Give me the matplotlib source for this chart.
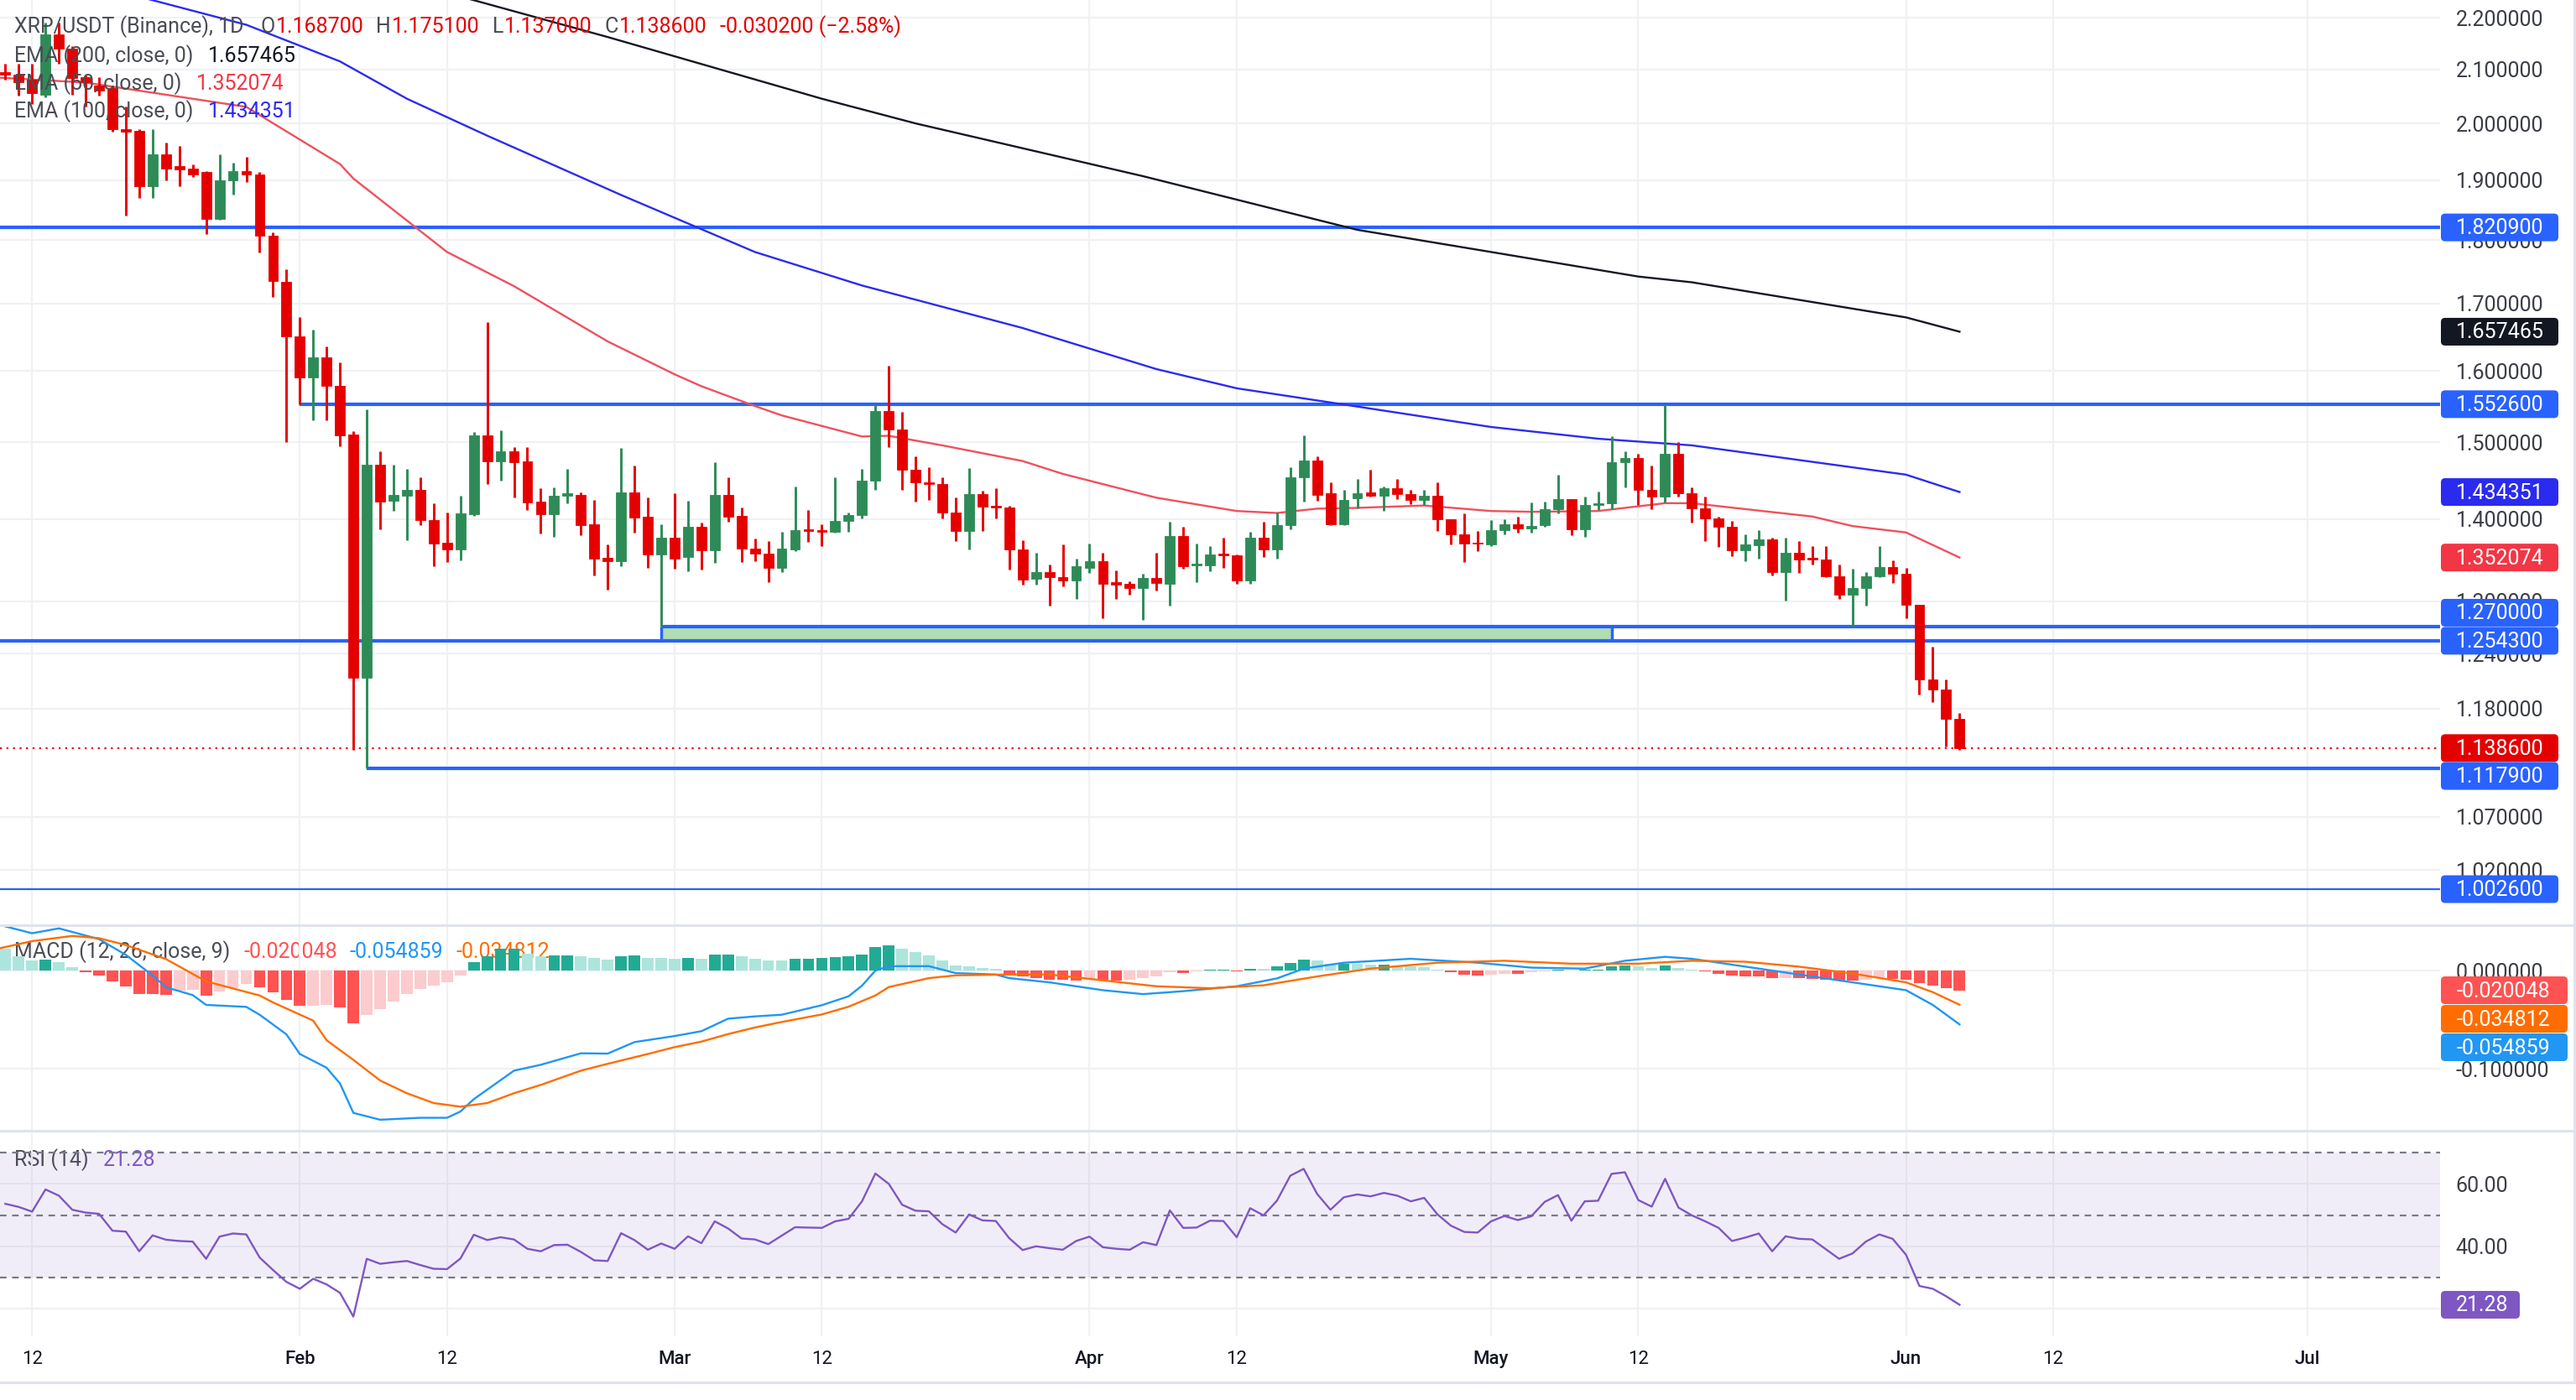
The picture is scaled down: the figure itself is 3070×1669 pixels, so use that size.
import numpy as np
import pandas as pd
import matplotlib
matplotlib.use("Agg")
import matplotlib.pyplot as plt
import matplotlib.dates as mdates
import matplotlib.ticker as mticker
from matplotlib.patches import FancyBboxPatch
from matplotlib.lines import Line2D
from matplotlib.transforms import IdentityTransform

plt.rcParams["font.family"] = ["Roboto", "DejaVu Sans"]

W, H = 3070, 1669
PLOT_R = 2908

# ---- daily candles, XRP/USDT 1D, from 2026-01-10 ----
start = "2026-01-10"
opens = [
    2.095, 2.09, 2.08, 2.053, 2.167, 2.14, 2.085, 2.07, 2.065, 1.99,
    1.987, 1.89, 1.945, 1.925, 1.92, 1.914, 1.835, 1.90, 1.916, 1.91,
    1.808, 1.734, 1.651, 1.59, 1.62, 1.578, 1.511, 1.213, 1.47, 1.423,
    1.43, 1.4375, 1.399, 1.37, 1.362, 1.406, 1.509, 1.475, 1.488, 1.475,
    1.422, 1.406, 1.43, 1.431, 1.393, 1.352, 1.348, 1.434, 1.403, 1.356,
    1.376, 1.353, 1.39, 1.361, 1.431, 1.4036, 1.363, 1.357, 1.34, 1.362,
    1.387, 1.386, 1.384, 1.398, 1.405, 1.449, 1.543, 1.518, 1.464, 1.4465,
    1.4445, 1.408, 1.385, 1.432, 1.417, 1.415, 1.362, 1.326, 1.334, 1.328,
    1.324, 1.34, 1.348, 1.322, 1.32, 1.315, 1.327, 1.32, 1.379, 1.343,
    1.343, 1.357, 1.355, 1.324, 1.376, 1.362, 1.392, 1.453, 1.476, 1.433,
    1.393, 1.426, 1.434, 1.4295, 1.439, 1.432, 1.424, 1.43, 1.40, 1.381,
    1.37, 1.368, 1.386, 1.393, 1.3875, 1.392, 1.412, 1.4255, 1.387, 1.418,
    1.42, 1.474, 1.479, 1.437, 1.428, 1.485, 1.433, 1.4135, 1.401, 1.39,
    1.361, 1.367, 1.374, 1.334, 1.358, 1.352, 1.35, 1.329, 1.307, 1.315,
    1.329, 1.341, 1.332, 1.296, 1.211, 1.20, 1.1687,
]
highs = [
    2.11, 2.11, 2.11, 2.19, 2.19, 2.145, 2.088, 2.085, 2.07, 2.03,
    1.99, 1.99, 1.966, 1.96, 1.927, 1.916, 1.945, 1.93, 1.94, 1.914,
    1.813, 1.754, 1.68, 1.66, 1.635, 1.612, 1.515, 1.545, 1.488, 1.47,
    1.465, 1.454, 1.42, 1.408, 1.43, 1.514, 1.672, 1.517, 1.494, 1.494,
    1.439, 1.44, 1.465, 1.434, 1.4245, 1.368, 1.493, 1.469, 1.427, 1.393,
    1.433, 1.423, 1.395, 1.474, 1.453, 1.415, 1.375, 1.372, 1.384, 1.442,
    1.411, 1.393, 1.453, 1.408, 1.465, 1.5526, 1.607, 1.542, 1.481, 1.467,
    1.454, 1.427, 1.466, 1.436, 1.439, 1.417, 1.373, 1.358, 1.344, 1.368,
    1.351, 1.369, 1.358, 1.336, 1.323, 1.332, 1.358, 1.396, 1.39, 1.369,
    1.366, 1.376, 1.356, 1.384, 1.396, 1.408, 1.467, 1.509, 1.481, 1.447,
    1.437, 1.451, 1.464, 1.441, 1.451, 1.4375, 1.437, 1.447, 1.40, 1.407,
    1.385, 1.399, 1.40, 1.403, 1.421, 1.422, 1.457, 1.4255, 1.428, 1.435,
    1.508, 1.488, 1.485, 1.469, 1.5526, 1.50, 1.44, 1.429, 1.403, 1.397,
    1.381, 1.386, 1.376, 1.377, 1.372, 1.366, 1.366, 1.344, 1.339, 1.334,
    1.366, 1.349, 1.34, 1.296, 1.248, 1.211, 1.1751,
]
lows = [
    2.08, 2.05, 2.035, 2.048, 2.11, 2.053, 2.03, 2.05, 1.985, 1.84,
    1.87, 1.87, 1.90, 1.89, 1.905, 1.81, 1.833, 1.875, 1.897, 1.78,
    1.71, 1.50, 1.553, 1.53, 1.53, 1.495, 1.137, 1.118, 1.387, 1.41,
    1.373, 1.392, 1.342, 1.347, 1.349, 1.404, 1.445, 1.449, 1.427, 1.411,
    1.382, 1.378, 1.42, 1.38, 1.33, 1.313, 1.342, 1.383, 1.34, 1.27,
    1.338, 1.335, 1.3375, 1.346, 1.396, 1.347, 1.348, 1.3225, 1.334, 1.36,
    1.371, 1.366, 1.383, 1.384, 1.401, 1.437, 1.494, 1.437, 1.422, 1.4245,
    1.401, 1.372, 1.362, 1.385, 1.401, 1.337, 1.319, 1.319, 1.295, 1.317,
    1.303, 1.333, 1.28, 1.303, 1.307, 1.278, 1.312, 1.295, 1.339, 1.322,
    1.335, 1.34, 1.32, 1.32, 1.353, 1.351, 1.387, 1.422, 1.423, 1.392,
    1.392, 1.413, 1.428, 1.41, 1.425, 1.419, 1.418, 1.385, 1.368, 1.347,
    1.36, 1.366, 1.381, 1.383, 1.383, 1.39, 1.407, 1.38, 1.378, 1.4115,
    1.4125, 1.44, 1.418, 1.412, 1.421, 1.428, 1.395, 1.372, 1.365, 1.354,
    1.348, 1.351, 1.33, 1.301, 1.333, 1.344, 1.328, 1.303, 1.27, 1.295,
    1.328, 1.321, 1.28, 1.195, 1.187, 1.14, 1.137,
]
closes = [
    2.09, 2.075, 2.055, 2.167, 2.14, 2.083, 2.075, 2.06, 1.99, 1.985,
    1.89, 1.945, 1.92, 1.918, 1.91, 1.835, 1.90, 1.916, 1.91, 1.807,
    1.735, 1.651, 1.59, 1.62, 1.578, 1.51, 1.213, 1.47, 1.422, 1.431,
    1.4375, 1.399, 1.369, 1.362, 1.407, 1.509, 1.475, 1.488, 1.474, 1.421,
    1.406, 1.43, 1.4326, 1.3925, 1.351, 1.348, 1.434, 1.402, 1.356, 1.377,
    1.351, 1.39, 1.361, 1.431, 1.403, 1.363, 1.357, 1.34, 1.363, 1.386,
    1.385, 1.384, 1.398, 1.405, 1.449, 1.543, 1.518, 1.464, 1.4465, 1.4445,
    1.4077, 1.385, 1.432, 1.416, 1.415, 1.362, 1.325, 1.334, 1.328, 1.324,
    1.3415, 1.348, 1.32, 1.319, 1.315, 1.327, 1.321, 1.379, 1.342, 1.345,
    1.356, 1.355, 1.324, 1.376, 1.362, 1.3925, 1.453, 1.476, 1.431, 1.393,
    1.4245, 1.433, 1.4295, 1.439, 1.432, 1.424, 1.43, 1.40, 1.381, 1.369,
    1.369, 1.386, 1.393, 1.3875, 1.391, 1.4125, 1.4255, 1.387, 1.418, 1.42,
    1.474, 1.479, 1.437, 1.428, 1.485, 1.433, 1.4135, 1.401, 1.39, 1.361,
    1.368, 1.374, 1.334, 1.358, 1.35, 1.35, 1.329, 1.307, 1.315, 1.329,
    1.341, 1.332, 1.296, 1.211, 1.20, 1.1687, 1.1386,
]

# EMA lines (date, value)
ema200_dates = ["02-01", "02-14", "02-24", "03-12", "03-19", "04-05", "04-21", "05-01", "05-12", "05-16",
                "06-01", "06-05"]
ema200_vals = [2.33, 2.235, 2.162, 2.045, 2.0, 1.907, 1.817, 1.781, 1.742, 1.733,
               1.679, 1.657465]
ema100_dates = ["01-09", "01-21", "01-28", "02-04", "02-09", "02-15", "02-25", "03-07", "03-15", "03-27",
                "04-06", "04-12", "04-19", "05-01", "05-09", "05-16", "06-01", "06-05"]
ema100_vals = [2.32, 2.235, 2.186, 2.115, 2.045, 1.978, 1.875, 1.781, 1.728, 1.663,
               1.6025, 1.575, 1.555, 1.521, 1.505, 1.496, 1.457, 1.434351]
ema50_dates = ["01-09", "01-16", "01-28", "02-04", "02-05", "02-12", "02-17", "02-24", "03-01", "03-03",
               "03-07", "03-09", "03-15", "03-17", "03-21", "03-27", "03-30", "04-06", "04-12", "04-15",
               "04-18", "04-21", "04-26", "05-01", "05-04", "05-09", "05-12", "05-14", "05-16", "05-25",
               "05-28", "06-01", "06-05"]
ema50_vals = [2.085, 2.075, 2.03, 1.928, 1.903, 1.781, 1.727, 1.643, 1.595, 1.578,
              1.55, 1.537, 1.508, 1.509, 1.496, 1.475, 1.458, 1.427, 1.41, 1.4075,
              1.413, 1.414, 1.417, 1.41, 1.409, 1.41, 1.416, 1.42, 1.42, 1.403,
              1.391, 1.383, 1.352074]

# MACD (12, 26, 9)
macd_dates = ["01-09", "01-10", "01-12", "01-14", "01-17", "01-19", "01-21", "01-22", "01-24", "01-25",
              "01-28", "01-29", "01-31", "02-01", "02-03", "02-04", "02-05", "02-07", "02-10", "02-12",
              "02-13", "02-14", "02-17", "02-19", "02-22", "02-24", "02-26", "03-01", "03-03", "03-05",
              "03-07", "03-09", "03-12", "03-14", "03-15", "03-16", "03-17", "03-20", "03-22", "03-25",
              "03-26", "03-29", "04-02", "04-05", "04-08", "04-12", "04-15", "04-17", "04-20", "04-25",
              "04-30", "05-04", "05-08", "05-11", "05-14", "05-16", "05-20", "05-24", "05-28", "06-01",
              "06-03", "06-05"]
macd_vals = [0.050, 0.045, 0.038, 0.043, 0.032, 0.016, -0.005, -0.017, -0.025, -0.035,
             -0.037, -0.045, -0.065, -0.085, -0.099, -0.115, -0.145, -0.152, -0.150, -0.150,
             -0.1436, -0.131, -0.102, -0.096, -0.0843, -0.0846, -0.0729, -0.0667, -0.0618, -0.049,
             -0.0467, -0.045, -0.0353, -0.0262, -0.0154, 0.0, 0.0045, 0.0045, -0.0026, -0.004,
             -0.0077, -0.012, -0.020, -0.024, -0.021, -0.016, -0.008, 0.002, 0.008, 0.012,
             0.008, 0.003, 0.002, 0.010, 0.014, 0.012, 0.004, -0.004, -0.012, -0.020,
             -0.035, -0.054859]
signal_dates = ["01-09", "01-12", "01-15", "01-17", "01-19", "01-22", "01-25", "01-29", "01-30", "02-02",
                "02-03", "02-05", "02-07", "02-09", "02-11", "02-13", "02-15", "02-17", "02-19", "02-22",
                "02-24", "02-27", "03-01", "03-03", "03-05", "03-07", "03-09", "03-12", "03-14", "03-16",
                "03-17", "03-20", "03-22", "03-26", "03-29", "04-02", "04-06", "04-10", "04-14", "04-18",
                "04-22", "04-27", "05-02", "05-07", "05-12", "05-16", "05-20", "05-24", "05-28", "06-01",
                "06-03", "06-05"]
signal_vals = [0.021, 0.030, 0.0353, 0.033, 0.026, 0.0117, -0.011, -0.0254, -0.0325, -0.051,
               -0.071, -0.091, -0.112, -0.125, -0.135, -0.1387, -0.135, -0.125, -0.1165, -0.102,
               -0.095, -0.085, -0.078, -0.0724, -0.0647, -0.058, -0.0524, -0.0447, -0.0368, -0.0254,
               -0.0168, -0.0077, -0.0049, -0.004, -0.004, -0.010, -0.016, -0.018, -0.015, -0.006,
               0.002, 0.008, 0.010, 0.007, 0.007, 0.010, 0.009, 0.004, -0.003, -0.012,
               -0.022, -0.034812]
hist = [
    0.0222, 0.0145, 0.0105, 0.0110, 0.0088, 0.0031, -0.0017, -0.0054, -0.0111, -0.0160,
    -0.0236, -0.0240, -0.0248, -0.0205, -0.0200, -0.0259, -0.0217, -0.0177, -0.0140, -0.0174,
    -0.0225, -0.0302, -0.0359, -0.0356, -0.0353, -0.0376, -0.0538, -0.0453, -0.0396, -0.0319,
    -0.0239, -0.0188, -0.0154, -0.0120, -0.0054, 0.0083, 0.0145, 0.0225, 0.0226, 0.0174,
    0.0145, 0.0154, 0.0155, 0.0150, 0.0131, 0.0111, 0.0145, 0.0154, 0.0131, 0.0130,
    0.0117, 0.0131, 0.0122, 0.0165, 0.0166, 0.0142, 0.0122, 0.0103, 0.0102, 0.0117,
    0.0118, 0.0131, 0.0137, 0.0145, 0.0165, 0.0236, 0.0259, 0.0225, 0.0188, 0.0151,
    0.0100, 0.0051, 0.0046, 0.0023, 0.0017,
    -0.003, -0.006, -0.008, -0.009, -0.0092,
    -0.010, -0.009, -0.0095, -0.0098, -0.009, -0.008, -0.006,
    -0.002, -0.0025, -0.001, 0.0005, 0.001, -0.001, 0.002, 0.0018, 0.004,
    0.008, 0.011, 0.010, 0.007,
    0.0072, 0.0068, 0.006, 0.0062, 0.005, 0.004, 0.0032, 0.001,
    -0.002, -0.004, -0.005, -0.004, -0.003, -0.0032, -0.002,
    -0.001, 0.001, 0.0002, 0.001, 0.0012, 0.004, 0.005, 0.004, 0.003, 0.005,
    0.003, 0.001, -0.001, -0.003, -0.005, -0.0058, -0.006, -0.008, -0.0078, -0.008,
    -0.0082, -0.009, -0.010, -0.0102, -0.009, -0.008, -0.0082, -0.009, -0.013, -0.015,
    -0.018, -0.020048,
]

# RSI (14), one value per candle
rsi = [
    53.6, 52.6, 51.1, 58.2, 56.2, 51.7, 50.8, 50.4, 45.0, 44.7,
    38.4, 43.5, 42.1, 41.7, 41.5, 36.0, 43.1, 44.1, 43.8, 36.4,
    32.4, 28.6, 26.4, 29.6, 27.8, 25.1, 17.5, 36.0, 34.4, 34.9,
    35.3, 34.0, 32.8, 32.7, 36.1, 43.7, 42.0, 42.9, 42.2, 39.2,
    38.4, 40.4, 40.5, 38.2, 35.5, 35.3, 44.2, 42.0, 38.9, 40.9,
    39.2, 43.2, 41.0, 48.0, 45.7, 42.5, 42.2, 40.7, 43.4, 46.1,
    46.0, 45.9, 48.0, 48.8, 54.4, 63.3, 60.0, 53.3, 51.4, 51.2,
    47.1, 44.4, 50.2, 48.3, 48.1, 42.6, 38.8, 40.0, 39.4, 38.9,
    41.7, 43.1, 39.7, 39.2, 38.9, 41.3, 40.4, 51.5, 45.9, 46.0,
    48.2, 48.1, 42.9, 52.2, 49.9, 54.6, 62.6, 64.8, 56.8, 51.7,
    55.7, 56.6, 56.0, 57.1, 56.2, 54.4, 55.5, 50.2, 46.6, 44.6,
    44.4, 48.0, 49.7, 48.4, 49.6, 54.2, 56.4, 48.2, 54.4, 54.6,
    63.2, 63.7, 54.8, 52.7, 61.6, 52.4, 49.9, 48.0, 45.9, 41.7,
    42.8, 44.1, 38.4, 43.2, 42.4, 42.2, 39.1, 36.0, 37.7, 41.5,
    43.8, 42.4, 37.3, 27.3, 26.4, 24.0, 21.28,
]

# drawn levels
full_levels = [1.8209, 1.2543, 1.0026]
level_1552 = (1.5526, "02-01")
level_1270 = (1.27, "02-28")
level_1117 = (1.1179, "02-06")
zone = ("02-28", "05-10", 1.2543, 1.27)
last_price = 1.1386

price_ticks = [1.02, 1.07, 1.18, 1.24, 1.3, 1.4, 1.5, 1.6, 1.7, 1.8, 1.9, 2.0, 2.1, 2.2]
x_ticks = ["01-12", "02-01", "02-12", "03-01", "03-12", "04-01", "04-12", "05-01", "05-12", "06-01", "06-12", "07-01"]
x_labels = ["12", "Feb", "12", "Mar", "12", "Apr", "12", "May", "12", "Jun", "12", "Jul"]


def d(s):
    return mdates.date2num(pd.Timestamp("2026-" + s))


dates = mdates.date2num(pd.date_range(start, periods=len(opens), freq="D"))
o, h, l, c = map(np.array, (opens, highs, lows, closes))
base = d("01-01")
xlim = (base + 8.6, base + 190.9)

UP, DOWN = "#2e8b57", "#e50000"
BLUE = "#2962ff"
GRID = "#f0f1f4"
TXT = "#3b3e45"

fig = plt.figure(figsize=(W / 100, H / 100), dpi=100)
fig.patch.set_facecolor("white")


def px_axes(top, bottom):
    return fig.add_axes([0, 1 - bottom / H, PLOT_R / W, (bottom - top) / H])


ax_p = px_axes(0, 1103)
ax_m = px_axes(1103, 1348)
ax_r = px_axes(1348, 1593)

for ax in (ax_p, ax_m, ax_r):
    ax.set_facecolor("none")
    for sp in ax.spines.values():
        sp.set_visible(False)
    ax.set_xlim(*xlim)
    ax.set_xticks([d(t) for t in x_ticks])
    ax.yaxis.tick_right()
    ax.tick_params(axis="both", length=0, labelsize=18, labelcolor=TXT)
    ax.tick_params(axis="y", pad=13.5)
    ax.grid(True, color=GRID, lw=1.6)
    ax.set_axisbelow(True)
ax_p.tick_params(axis="x", labelbottom=False)
ax_m.tick_params(axis="x", labelbottom=False)
ax_r.set_xticklabels(x_labels)
ax_r.tick_params(axis="x", pad=12, labelsize=16, labelcolor="#131722")
for lab, txt in zip(ax_r.get_xticklabels(), x_labels):
    if not txt.isdigit():
        lab.set_fontweight("medium")

# ---- price panel ----
ax_p.set_yscale("log")
ax_p.set_ylim(0.9705, 2.2354)
ax_p.yaxis.set_major_locator(mticker.FixedLocator(price_ticks))
ax_p.yaxis.set_minor_locator(mticker.NullLocator())
ax_p.yaxis.set_major_formatter(mticker.FormatStrFormatter("%.6f"))
ax_p.yaxis.set_minor_formatter(mticker.NullFormatter())

for y in full_levels:
    ax_p.axhline(y, color=BLUE, lw=3 if y > 1.1 else 1.6, zorder=2)
for y, s in (level_1552, level_1270, level_1117):
    ax_p.hlines(y, d(s), xlim[1], color=BLUE, lw=3, zorder=2)
z0, z1, zlo, zhi = zone
ax_p.fill_between([d(z0), d(z1)], zlo, zhi, color="#b1ddb3", lw=0, zorder=1.5)
ax_p.vlines([d(z0), d(z1)], zlo, zhi, color=BLUE, lw=2.5, zorder=2)
ax_p.axhline(last_price, color=DOWN, lw=1.6, ls=(0, (1, 2.5)), zorder=2)

ax_p.plot([d(s) for s in ema200_dates], ema200_vals, color="#131722", lw=1.7, zorder=3)
ax_p.plot([d(s) for s in ema100_dates], ema100_vals, color="#2b2bef", lw=1.7, zorder=3)
ax_p.plot([d(s) for s in ema50_dates], ema50_vals, color="#f0505c", lw=1.7, zorder=3)

col = np.where(c >= o, UP, DOWN)
ax_p.vlines(dates, l, h, colors=col, lw=2.1, zorder=4)
ax_p.bar(dates, np.abs(c - o), bottom=np.minimum(o, c), width=0.74, color=col,
         edgecolor=col, lw=0.6, zorder=5)

# ---- MACD panel ----
ax_m.set_ylim(-0.1632, 0.0462)
ax_m.yaxis.set_major_locator(mticker.FixedLocator([-0.1, 0.0]))
ax_m.yaxis.set_major_formatter(mticker.FormatStrFormatter("%.6f"))
hcols = []
for i, v in enumerate(hist):
    prev = hist[i - 1] if i else v
    if v >= 0:
        hcols.append("#22ab94" if v > prev else "#ace5dc")
    else:
        hcols.append("#ff5252" if v < prev else "#fccbcd")
ax_m.bar(dates, hist, width=0.86, color=hcols, zorder=2)
ax_m.plot([d(s) for s in macd_dates], macd_vals, color="#2196f3", lw=1.7, zorder=3)
ax_m.plot([d(s) for s in signal_dates], signal_vals, color="#ff6d00", lw=1.7, zorder=3)

# ---- RSI panel ----
ax_r.set_ylim(11.2, 77.0)
ax_r.yaxis.set_major_locator(mticker.FixedLocator([20, 40, 60]))
ax_r.yaxis.set_major_formatter(mticker.FormatStrFormatter("%.2f"))
ax_r.axhspan(30, 70, color="#7e57c2", alpha=0.1, lw=0, zorder=1)
for y in (70, 50, 30):
    ax_r.axhline(y, color="#787b86", lw=1.6, ls=(0, (3.5, 3)), zorder=2)
ax_r.plot(dates, rsi, color="#7e57c2", lw=1.7, zorder=3)

# ---- frame lines ----
for y in (1103, 1348, 1648):
    fig.add_artist(Line2D([0, 3068], [H - y, H - y], transform=IdentityTransform(),
                          color="#e0e3eb", lw=2.2))
fig.add_artist(Line2D([3068, 3068], [H - 1648, H], transform=IdentityTransform(),
                      color="#e0e3eb", lw=2.2))


# ---- price tags on the right scale ----
def tag(ax, value, text, color, shift=0, width=140):
    y = ax.transData.transform((xlim[0], value))[1] + shift
    fig.add_artist(FancyBboxPatch((2909, y - 16.5), width, 33,
                                  boxstyle="round,pad=0,rounding_size=5",
                                  transform=IdentityTransform(), fc=color, ec="none"))
    fig.text(2927, y - 1, text, transform=IdentityTransform(), color="white",
             fontsize=18, va="center", ha="left")
    return y


tag(ax_p, 1.8209, "1.820900", BLUE)
tag(ax_p, ema200_vals[-1], "1.657465", "#131722")
tag(ax_p, 1.5526, "1.552600", BLUE)
tag(ax_p, ema100_vals[-1], "1.434351", "#2b2bef")
tag(ax_p, ema50_vals[-1], "1.352074", "#f23645")
tag(ax_p, 1.27, "1.270000", BLUE, shift=17)
tag(ax_p, 1.2543, "1.254300", BLUE)
tag(ax_p, last_price, "1.138600", DOWN)
tag(ax_p, 1.1179, "1.117900", BLUE, shift=-9)
tag(ax_p, 1.0026, "1.002600", BLUE)

yh = tag(ax_m, hist[-1], "-0.020048", "#ff5252", width=151)
ys = ax_m.transData.transform((xlim[0], signal_vals[-1]))[1]
tag(ax_m, signal_vals[-1], "-0.034812", "#ff6d00", shift=(yh - 34) - ys, width=151)
ym = ax_m.transData.transform((xlim[0], macd_vals[-1]))[1]
tag(ax_m, macd_vals[-1], "-0.054859", "#2196f3", shift=(yh - 68) - ym, width=151)
tag(ax_r, rsi[-1], "21.28", "#7e57c2", width=94)


# ---- legends (chained text pieces) ----
def legend_row(x, y_top, parts, size=18):
    prev = None
    for s, color, gap in parts:
        if prev is None:
            prev = ax_p.annotate(s, xy=(x, H - y_top), xycoords=IdentityTransform(),
                                 color=color, fontsize=size, va="center", ha="left",
                                 annotation_clip=False, zorder=10)
        else:
            prev = ax_p.annotate(s, xy=(1, 0.5), xycoords=prev, xytext=(gap, 0),
                                 textcoords="offset pixels", color=color, fontsize=size,
                                 va="center", ha="left", annotation_clip=False, zorder=10)


G = "#4a4d55"
R = "#e50000"
legend_row(17, 32, [("XRP/USDT (Binance), 1D", G, 0), ("O", G, 20), ("1.168700", R, 1),
                    ("H", G, 15), ("1.175100", R, 1), ("L", G, 15), ("1.137000", R, 1),
                    ("C", G, 15), ("1.138600", R, 1), ("-0.030200 (\u22122.58%)", R, 15)])
legend_row(17, 67, [("EMA (200, close, 0)", G, 0), ("1.657465", "#131722", 18)])
legend_row(17, 100, [("EMA (50, close, 0)", G, 0), ("1.352074", "#f23645", 18)])
legend_row(17, 133, [("EMA (100, close, 0)", G, 0), ("1.434351", "#2b2bef", 18)])
legend_row(17, 1135, [("MACD (12, 26, close, 9)", G, 0), ("-0.020048", "#ff5252", 16),
                      ("-0.054859", "#2196f3", 15), ("-0.034812", "#ff6d00", 15)])
legend_row(17, 1383, [("RSI (14)", G, 0), ("21.28", "#7e57c2", 17)])

fig.savefig("out.png", dpi=100, facecolor="white")
